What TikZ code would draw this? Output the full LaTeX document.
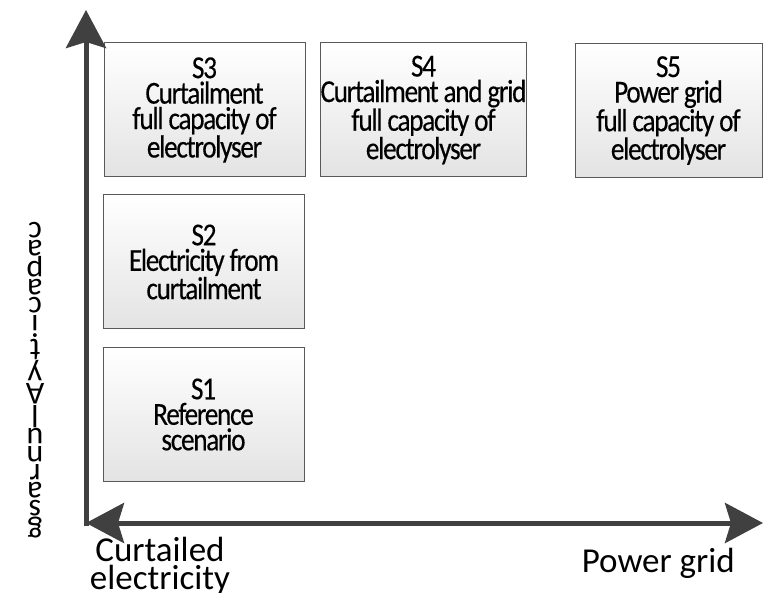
\documentclass[tikz,border=0pt]{standalone}
\usepackage{fontspec}
\setmainfont{Carlito}
\newfontfamily\boxfont{Carlito}[FakeStretch=0.85,LetterSpace=-4.0,FakeBold=0.3]
\usetikzlibrary{arrows.meta}
\definecolor{axisgray}{HTML}{404040}
\definecolor{boxline}{HTML}{595959}
\definecolor{boxbot}{HTML}{E3E3E3}
\tikzset{
  scen/.style={draw=boxline, line width=1pt, top color=white, bottom color=boxbot,
    minimum width=201pt, minimum height=134pt, inner sep=0pt, align=center,
    font=\boxfont\fontsize{32}{25.5}\selectfont},
  axisline/.style={draw=axisgray, line width=5pt},
  bigtip/.tip={Stealth[length=38pt,width=40pt,inset=6pt]},
  axlabel/.style={inner sep=0pt, align=center, font=\fontsize{35}{28}\selectfont},
  vlabel/.style={inner sep=0pt, rotate=180, align=center, font=\fontsize{32}{18}\selectfont}
}
\begin{document}
\begin{tikzpicture}[x=1pt,y=-1pt]
\useasboundingbox (0,0) rectangle (763,593);
% scenario boxes
\node[scen] (s3) at (204.5,110) {S3\\Curtailment\\full capacity of\\electrolyser};
\node[scen] (s4) at (423.5,110) {S4\\Curtailment and grid\\full capacity of\\electrolyser};
\node[scen, minimum width=187pt] (s5) at (668.5,110.5) {S5\\Power grid\\full capacity of\\electrolyser};
\node[scen] (s2) at (204,262) {S2\\Electricity from\\curtailment};
\node[scen] (s1) at (203.5,414.5) {S1\\Reference\\scenario};
% axes
\coordinate (org) at (86,523);
\coordinate (xend) at (763,523);
\coordinate (yend) at (86,10);
\coordinate (ybot) at (86,525.5);
\draw[axisline, bigtip-bigtip] (org) -- (xend);
\draw[axisline, -bigtip] (ybot) -- (yend);
% axis labels
\node[axlabel, anchor=base] (xl1) at (160,589) {Curtailed\\electricity};
\node[axlabel, anchor=base east] (xl2) at (735,572) {Power grid};
% vertical stacked label (glyphs upside down, read top to bottom)
\node[vlabel] (ylab) at (35,380) {g\\s\\a\\r\\n\\u\\l\\A\\y\\t\\i\\c\\a\\p\\a\\c};
\end{tikzpicture}
\end{document}
